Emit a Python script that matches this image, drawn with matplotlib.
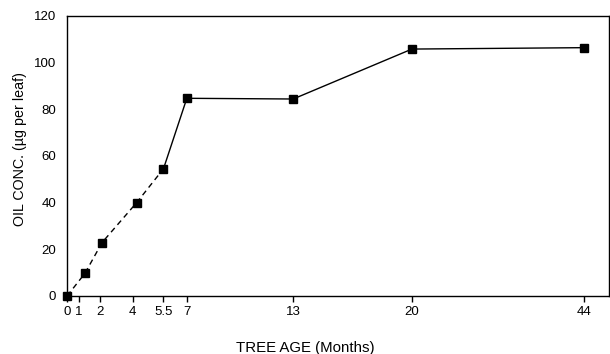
import numpy as np
import matplotlib
matplotlib.use("Agg")
import matplotlib.pyplot as plt

# --- DATA ---
ages = [0, 1.3, 2.15, 4.2, 5.5, 7, 13, 20, 44]          # tree age (months)
oil = [0, 9.7, 22.9, 40, 54.5, 84.7, 84.4, 105.8, 106.4]  # ug per leaf
dashed_upto = 4  # index of the last point on the dashed part (5.5 months)

tick_vals = [0, 1, 2, 4, 5.5, 7, 13, 20, 44]
tick_labels = ["0", "1", "2", "4", "5.5", "7", "13", "20", "44"]
y_ticks = [0, 20, 40, 60, 80, 100, 120]

# piecewise axis used in the original (not linear in months)
brk_vals = np.array([0, 1, 2, 4, 5.5, 7, 13, 20, 44, 60])
brk_pos = np.array([0, 11.6, 32.6, 65.6, 96.6, 120, 226.6, 345.6, 518.3, 633.5])


def fwd(x):
    return np.interp(x, brk_vals, brk_pos)


def inv(x):
    return np.interp(x, brk_pos, brk_vals)


plt.rcParams['font.family'] = ['Liberation Sans', 'DejaVu Sans']

fig = plt.figure(figsize=(6.10, 3.54), dpi=100)
ax = fig.add_axes([0.110, 0.164, 0.889, 0.791])
ax.set_xscale('function', functions=(fwd, inv))

ax.plot(ages[:dashed_upto + 1], oil[:dashed_upto + 1], color='black', lw=1.0,
        ls=(0, (4, 3)), zorder=2)
ax.plot(ages[dashed_upto:], oil[dashed_upto:], color='black', lw=1.0, zorder=2)
ax.plot(ages, oil, ls='none', marker='s', ms=6.2, color='black', zorder=3, clip_on=False)

ax.set_xlim(0, 47.5)
ax.set_ylim(0, 120)
ax.set_xticks(tick_vals)
ax.set_xticklabels(tick_labels)
ax.set_yticks(y_ticks)
ax.tick_params(axis='x', direction='out', length=4, width=1, labelsize=9.5, pad=3)
ax.tick_params(axis='y', length=0, labelsize=9.5, pad=8)
ax.xaxis.set_minor_locator(matplotlib.ticker.NullLocator())

for s in ax.spines.values():
    s.set_linewidth(1.0)

ax.set_ylabel('OIL CONC. (µg per leaf)', fontsize=10.3)
ax.yaxis.set_label_coords(-0.074, 0.525)
ax.set_xlabel('TREE AGE (Months)', fontsize=10.8)
ax.xaxis.set_label_coords(0.44, -0.16)

fig.savefig('out.png', dpi=100)
